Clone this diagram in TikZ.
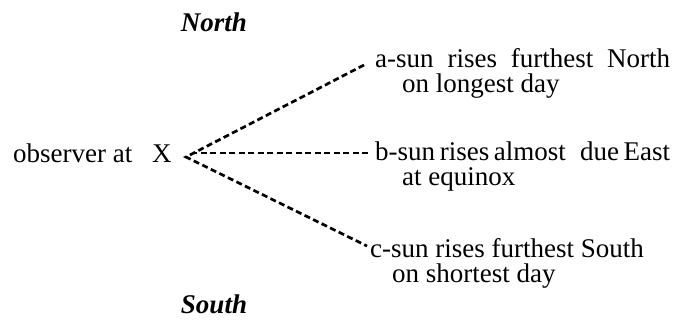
\documentclass[tikz,border=0pt]{standalone}
\usepackage{fontspec}
\setmainfont{Liberation Serif}
\begin{document}
\begin{tikzpicture}[x=1pt,y=-1pt,
  txt/.style={inner sep=0pt,anchor=base west,font=\fontsize{27}{32}\selectfont},
  two/.style={inner sep=0pt,anchor=base west,align=left,font=\fontsize{27}{25}\selectfont},
  hd/.style={inner sep=0pt,anchor=base,font=\fontsize{27}{32}\selectfont\bfseries\itshape},
  dsh/.style={line width=2.7pt,dash pattern=on 6pt off 3.5pt}]
\useasboundingbox (0,0) rectangle (674,325);
\node[hd] (north) at (214,31) {North};
\node[hd] (south) at (214,313) {South};
\node[txt] (obs) at (13,162) {observer at};
\node[txt] (x) at (152,162) {X};
\node[two] (a) at (375,92) {\hbox to 295pt{a-sun\hfill rises\hfill furthest\hfill North}\\\hspace*{27pt}on longest day};
\node[two] (b) at (375,185) {\hbox to 295pt{b-sun rises almost\hspace{0.35em} due East}\\\hspace*{27pt}at equinox};
\node[two] (c) at (370,282) {c-sun rises furthest South\\\hspace*{22pt}on shortest day};
\coordinate (tip) at (186,157);
\coordinate (htip) at (193,153);
\coordinate (ea) at (364,65);
\coordinate (eb) at (368,153);
\coordinate (ec) at (367,246);
\draw[dsh] (ea) -- (tip) -- (ec);
\draw[dsh] (eb) -- (htip);
\end{tikzpicture}
\end{document}
